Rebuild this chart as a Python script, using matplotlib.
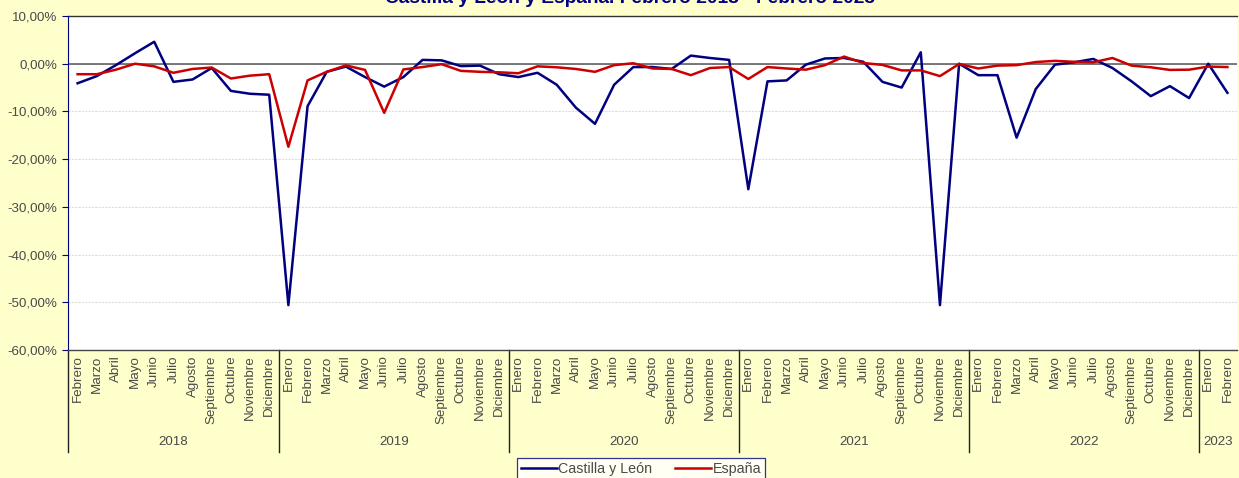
import matplotlib.pyplot as plt
from matplotlib.transforms import blended_transform_factory
from matplotlib.ticker import FuncFormatter

plt.rcParams['font.family'] = ['Liberation Sans', 'DejaVu Sans']

# monthly variation (%) Feb 2018 - Feb 2023
castilla_leon = [
    -4.1, -2.6, -0.3, 2.2, 4.6, -3.8, -3.3, -0.9, -5.7, -6.3, -6.5,
    -50.6, -8.9, -1.7, -0.6, -2.8, -4.8, -2.8, 0.8, 0.7, -0.5, -0.4, -2.2,
    -2.8, -1.9, -4.4, -9.2, -12.6, -4.4, -0.7, -0.7, -1.1, 1.7, 1.2, 0.8,
    -26.3, -3.7, -3.5, -0.2, 1.1, 1.2, 0.4, -3.8, -5.0, 2.4, -50.6, 0.0,
    -2.4, -2.4, -15.5, -5.3, -0.2, 0.3, 1.0, -0.9, -3.7, -6.8, -4.7, -7.2,
    0.0, -6.1,
]
espana = [
    -2.2, -2.2, -1.25, 0.0, -0.55, -1.9, -1.1, -0.8, -3.1, -2.5, -2.2,
    -17.4, -3.5, -1.7, -0.35, -1.3, -10.3, -1.2, -0.7, -0.1, -1.5, -1.7, -1.8,
    -2.0, -0.55, -0.75, -1.1, -1.7, -0.3, 0.1, -1.0, -1.1, -2.4, -0.9, -0.7,
    -3.2, -0.7, -1.0, -1.25, -0.3, 1.5, 0.15, -0.25, -1.4, -1.4, -2.6, -0.05,
    -1.0, -0.4, -0.3, 0.35, 0.6, 0.4, 0.3, 1.2, -0.4, -0.75, -1.3, -1.25,
    -0.6, -0.7,
]
meses = ['Enero', 'Febrero', 'Marzo', 'Abril', 'Mayo', 'Junio', 'Julio',
         'Agosto', 'Septiembre', 'Octubre', 'Noviembre', 'Diciembre']
years = [2018, 2019, 2020, 2021, 2022, 2023]

month_labels = []
year_of = []
for y in years:
    for m in range(12):
        if (y == 2018 and m < 1) or (y == 2023 and m > 1):
            continue
        month_labels.append(meses[m])
        year_of.append(y)

bg = '#FFFFCC'
navy = '#000080'
red = '#CC0000'
grey_txt = '#4A4A4A'

fig = plt.figure(figsize=(12.39, 4.78), dpi=100, facecolor=bg)
ax = fig.add_axes([68 / 1239, 128 / 478, 1169 / 1239, 334 / 478])
ax.set_facecolor('white')

x = list(range(len(month_labels)))
ax.plot(x, castilla_leon, color=navy, lw=1.8, label='Castilla y León', zorder=3)
ax.plot(x, espana, color=red, lw=1.8, label='España', zorder=3)

ax.set_xlim(-0.5, len(x) - 0.5)
ax.set_ylim(-60, 10)
ax.set_yticks(range(-60, 11, 10))
ax.yaxis.set_major_formatter(FuncFormatter(lambda v, p: f'{v:.2f}%'.replace('.', ',')))
ax.tick_params(axis='y', colors=navy, labelcolor=grey_txt, labelsize=9.6, length=4, width=0.8, pad=4)
ax.grid(axis='y', color='#DDDDDD', lw=0.8, ls=(0, (2, 1)))
ax.axhline(0, color='#555555', lw=1.1, zorder=2)

ax.set_xticks(x)
ax.set_xticklabels(month_labels, rotation=90, fontsize=9.6, color=grey_txt, va='top')
ax.tick_params(axis='x', length=0, pad=4)

for side in ['top', 'right']:
    ax.spines[side].set_visible(False)
ax.spines['left'].set_color(navy)
ax.spines['left'].set_linewidth(0.8)
ax.spines['left'].set_linestyle((0, (2, 1)))
ax.spines['bottom'].set_color('#444444')
ax.spines['bottom'].set_linewidth(1.0)
ax.plot([0, 1], [1, 1], transform=ax.transAxes, color='#333333', lw=1.0, clip_on=False)

# year groups below month labels
trans = blended_transform_factory(ax.transData, ax.transAxes)
bounds = [-0.5]
for i in range(1, len(year_of)):
    if year_of[i] != year_of[i - 1]:
        bounds.append(i - 0.5)
bounds.append(len(year_of) - 0.5)
for b in bounds[:-1]:
    ax.plot([b, b], [0, -0.305], transform=trans, color='#222222', lw=1.0, clip_on=False)
for k, y in enumerate(years):
    mid = (bounds[k] + bounds[k + 1]) / 2
    ax.text(mid, -0.275, str(y), transform=trans, ha='center', va='center',
            fontsize=9.6, color=grey_txt)

fig.text(630 / 1239, 1.0 - 3 / 478, 'Castilla y León y España. Febrero 2018 - Febrero 2023',
         ha='center', va='baseline', fontsize=13.8, fontweight='bold', color=navy)

leg = fig.legend(loc='center', bbox_to_anchor=(641 / 1239, 1 - 469 / 478), ncol=2,
                 frameon=True, fancybox=False, fontsize=10.3, handlelength=2.5,
                 handletextpad=0.1, columnspacing=1.6, borderpad=0.3)
leg.get_frame().set_edgecolor(navy)
leg.get_frame().set_linewidth(0.9)
for t in leg.get_texts():
    t.set_color(grey_txt)

fig.savefig('out.png', dpi=100, facecolor=bg)
